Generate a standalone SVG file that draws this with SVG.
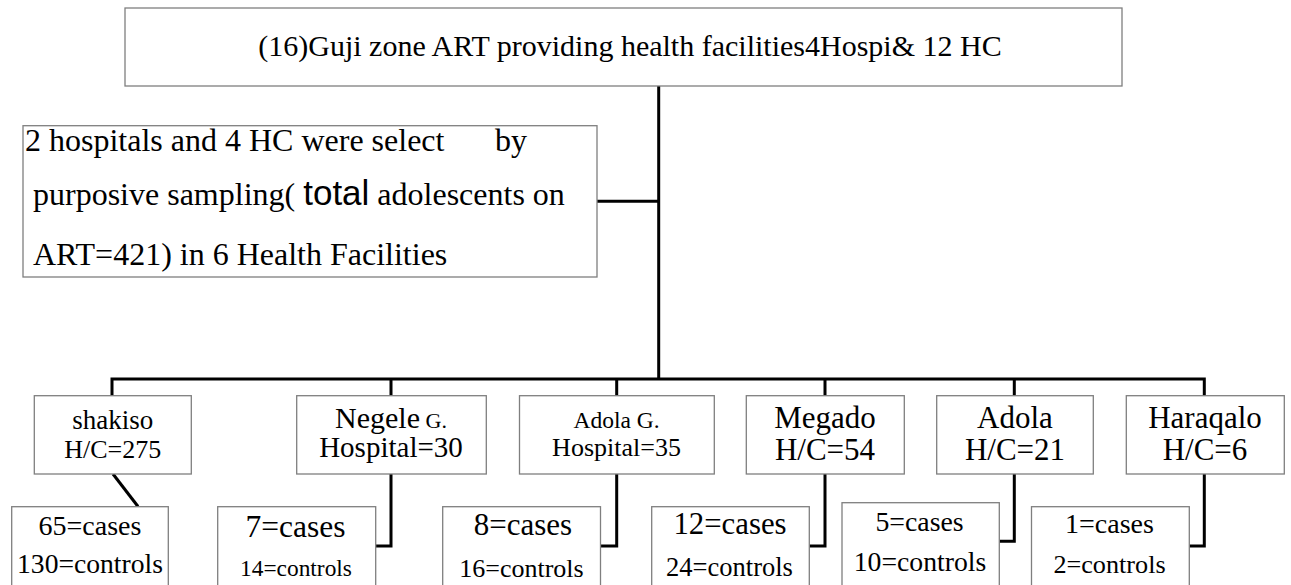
<svg xmlns="http://www.w3.org/2000/svg" width="1291" height="585" viewBox="0 0 1291 585">
<style>
.box{fill:#fff;stroke:#7f7f7f;stroke-width:1.3}
.conn{fill:none;stroke:#000;stroke-width:3}
text{font-family:"Liberation Serif","Times New Roman",serif;fill:#000}
.c{text-anchor:middle}
.sans{font-family:"Liberation Sans",Arial,sans-serif}
</style>
<rect width="1291" height="585" fill="#fff"/>
<g id="connectors">
<path class="conn" d="M658.7,86 V379"/>
<path class="conn" d="M597,201.3 H658.7"/>
<path class="conn" d="M112,396 V379 H1204.3 V396"/>
<path class="conn" d="M391,379 V396 M616.7,379 V396 M825,379 V396 M1014.3,379 V396"/>
<path class="conn" d="M113,474 L138,506.5"/>
<path class="conn" d="M391,474 V546 H375.7"/>
<path class="conn" d="M616.7,474 V546 H600.5"/>
<path class="conn" d="M825,474 V546 H809.3"/>
<path class="conn" d="M1014.3,474 V541.3 H999.3"/>
<path class="conn" d="M1204.3,474 V546 H1189.3"/>
</g>
<g id="top">
<rect class="box" x="125" y="8" width="997" height="78"/>
<text x="630" y="56" class="c" font-size="30">(16)Guji zone ART providing health facilities4Hospi&amp; 12 HC</text>
</g>
<g id="selection">
<rect class="box" x="23" y="125.7" width="574" height="151.3"/>
<text x="25" y="151" font-size="32">2 hospitals and 4 HC were select<tspan x="495">by</tspan></text>
<text x="33" y="205" font-size="32">purposive sampling( <tspan class="sans" font-size="35">total</tspan> adolescents on</text>
<text x="33" y="265" font-size="32">ART=421) in 6 Health Facilities</text>
</g>
<g id="shakiso">
<rect class="box" x="34.3" y="395.7" width="157" height="78.3"/>
<text x="112.8" y="429" class="c" font-size="27">shakiso</text>
<text x="112.8" y="458" class="c" font-size="26">H/C=275</text>
</g>
<g id="negele">
<rect class="box" x="296.7" y="395.7" width="189.6" height="78.3"/>
<text x="391" y="428" class="c" font-size="30">Negele<tspan font-size="22"> G.</tspan></text>
<text x="391" y="457" class="c" font-size="29">Hospital=30</text>
</g>
<g id="adolag">
<rect class="box" x="519.5" y="395.7" width="194.8" height="78.3"/>
<text x="616.5" y="428" class="c" font-size="23.5">Adola G.</text>
<text x="616.5" y="456" class="c" font-size="26">Hospital=35</text>
</g>
<g id="megado">
<rect class="box" x="746.3" y="395.7" width="158" height="78.3"/>
<text x="825" y="428" class="c" font-size="31">Megado</text>
<text x="825" y="460" class="c" font-size="31">H/C=54</text>
</g>
<g id="adola">
<rect class="box" x="936.7" y="395.7" width="156.6" height="78.3"/>
<text x="1015" y="428" class="c" font-size="31">Adola</text>
<text x="1015" y="460" class="c" font-size="31">H/C=21</text>
</g>
<g id="haraqalo">
<rect class="box" x="1126.3" y="395.7" width="158" height="78.3"/>
<text x="1205" y="428" class="c" font-size="31">Haraqalo</text>
<text x="1205" y="460" class="c" font-size="31">H/C=6</text>
</g>
<g id="s-shakiso">
<rect class="box" x="11.7" y="506.7" width="156.6" height="100"/>
<text x="90" y="535" class="c" font-size="28">65=cases</text>
<text x="90" y="573" class="c" font-size="27.6">130=controls</text>
</g>
<g id="s-negele">
<rect class="box" x="217.7" y="506.7" width="158" height="100"/>
<text x="295.5" y="536.5" class="c" font-size="31.5">7=cases</text>
<text x="296" y="576" class="c" font-size="23.4">14=controls</text>
</g>
<g id="s-adolag">
<rect class="box" x="442.7" y="506.7" width="157.8" height="100"/>
<text x="523" y="535" class="c" font-size="31">8=cases</text>
<text x="521.5" y="576.5" class="c" font-size="26">16=controls</text>
</g>
<g id="s-megado">
<rect class="box" x="651.7" y="506.7" width="157.6" height="100"/>
<text x="730" y="534" class="c" font-size="30.8">12=cases</text>
<text x="729.5" y="576" class="c" font-size="26.5">24=controls</text>
</g>
<g id="s-adola">
<rect class="box" x="842" y="502.7" width="157.3" height="100"/>
<text x="919.5" y="531" class="c" font-size="27.8">5=cases</text>
<text x="920" y="570.7" class="c" font-size="27.7">10=controls</text>
</g>
<g id="s-haraqalo">
<rect class="box" x="1031.5" y="506.7" width="157.8" height="100"/>
<text x="1109.5" y="533" class="c" font-size="28">1=cases</text>
<text x="1109.5" y="573" class="c" font-size="26.2">2=controls</text>
</g>
</svg>
